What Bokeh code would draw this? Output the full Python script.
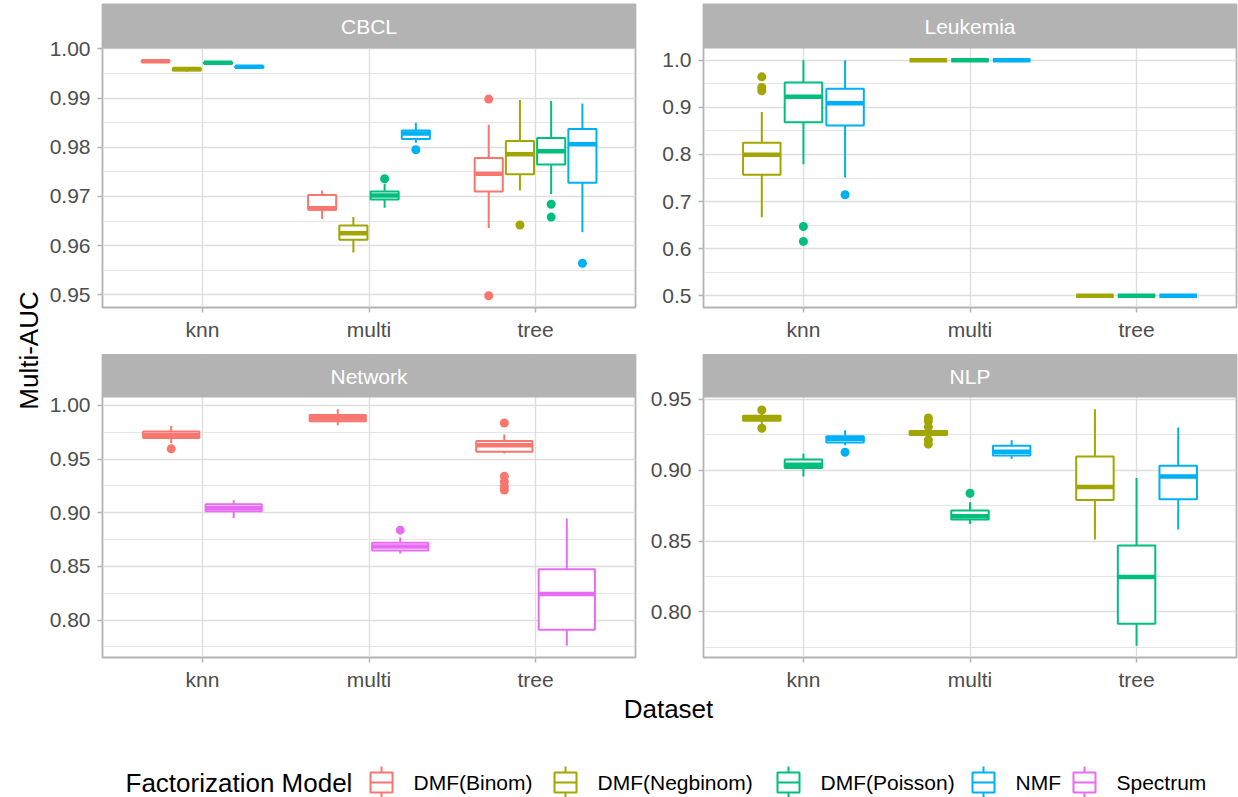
import numpy as np
import pandas as pd
from bokeh.core.properties import value
from bokeh.embed import file_html
from bokeh.layouts import column, row
from bokeh.models import ColumnDataSource, FixedTicker, PrintfTickFormatter, Range1d
from bokeh.plotting import figure
from bokeh.resources import INLINE

# ---------------------------------------------------------------- data
METHODS = ["knn", "multi", "tree"]
MODEL_NAMES = ["DMF(Binom)", "DMF(Negbinom)", "DMF(Poisson)", "NMF", "Spectrum"]
MODEL_COLORS = ["#F8766D", "#A3A500", "#00BF7D", "#00B0F6", "#E76BF3"]

# Box statistics: rows ordered knn, multi, tree; models inner
CBCL_MODELS = ["DMF(Binom)", "DMF(Negbinom)", "DMF(Poisson)", "NMF"]
CBCL_LOWER = [0.9972, 0.9954, 0.9968, 0.9961,
              0.9654, 0.9586, 0.9677, 0.9809,
              0.9636, 0.9712, 0.9705, 0.9627]
CBCL_Q1 = [0.9974, 0.9956, 0.9970, 0.9962,
           0.9673, 0.9612, 0.9694, 0.9817,
           0.9710, 0.9745, 0.9765, 0.9728]
CBCL_MEDIAN = [0.9975, 0.9959, 0.9972, 0.9964,
               0.9676, 0.9625, 0.9702, 0.9828,
               0.9746, 0.9786, 0.9792, 0.9806]
CBCL_Q3 = [0.9976, 0.9961, 0.9973, 0.9965,
           0.9703, 0.9641, 0.9710, 0.9834,
           0.9778, 0.9813, 0.9819, 0.9837]
CBCL_UPPER = [0.9977, 0.9962, 0.9974, 0.9966,
              0.9712, 0.9658, 0.9726, 0.9850,
              0.9846, 0.9896, 0.9894, 0.9889]
CBCL_OUT_METHOD = ["multi", "multi", "tree", "tree", "tree", "tree", "tree", "tree"]
CBCL_OUT_MODEL = ["DMF(Poisson)", "NMF", "DMF(Binom)", "DMF(Binom)",
                  "DMF(Negbinom)", "DMF(Poisson)", "DMF(Poisson)", "NMF"]
CBCL_OUT_VALUE = [0.9736, 0.9795, 0.9898, 0.9498, 0.9642, 0.9684, 0.9658, 0.9564]

LEUK_MODELS = ["DMF(Negbinom)", "DMF(Poisson)", "NMF"]
LEUK_LOWER = [0.6667, 0.7792, 0.7511, 1.0, 1.0, 1.0, 0.5, 0.5, 0.5]
LEUK_Q1 = [0.7567, 0.8685, 0.8615, 1.0, 1.0, 1.0, 0.5, 0.5, 0.5]
LEUK_MEDIAN = [0.7996, 0.9226, 0.9086, 1.0, 1.0, 1.0, 0.5, 0.5, 0.5]
LEUK_Q3 = [0.8249, 0.9529, 0.9395, 1.0, 1.0, 1.0, 0.5, 0.5, 0.5]
LEUK_UPPER = [0.8903, 1.0, 1.0, 1.0, 1.0, 1.0, 0.5, 0.5, 0.5]
LEUK_OUT_METHOD = ["knn", "knn", "knn", "knn", "knn", "knn"]
LEUK_OUT_MODEL = ["DMF(Negbinom)", "DMF(Negbinom)", "DMF(Negbinom)",
                  "DMF(Poisson)", "DMF(Poisson)", "NMF"]
LEUK_OUT_VALUE = [0.9648, 0.9423, 0.9353, 0.6470, 0.6153, 0.7145]

NET_MODELS = ["DMF(Binom)", "Spectrum"]
NET_LOWER = [0.9648, 0.8952, 0.9815, 0.8621, 0.9552, 0.7762]
NET_Q1 = [0.9697, 0.9014, 0.9852, 0.8649, 0.9567, 0.7910]
NET_MEDIAN = [0.9725, 0.9045, 0.9880, 0.8685, 0.9629, 0.8244]
NET_Q3 = [0.9756, 0.9079, 0.9910, 0.8720, 0.9669, 0.8473]
NET_UPPER = [0.9808, 0.9116, 0.9963, 0.8770, 0.9728, 0.8946]
NET_OUT_METHOD = ["knn", "multi", "tree", "tree", "tree", "tree", "tree"]
NET_OUT_MODEL = ["DMF(Binom)", "Spectrum", "DMF(Binom)", "DMF(Binom)",
                 "DMF(Binom)", "DMF(Binom)", "DMF(Binom)"]
NET_OUT_VALUE = [0.9595, 0.8838, 0.9836, 0.9339, 0.9289, 0.9246, 0.9212]

NLP_MODELS = ["DMF(Negbinom)", "DMF(Poisson)", "NMF"]
NLP_LOWER = [0.9324, 0.8956, 0.9177, 0.9241, 0.8621, 0.9081, 0.8511, 0.7761, 0.8581]
NLP_Q1 = [0.9350, 0.9015, 0.9195, 0.9249, 0.8652, 0.9104, 0.8790, 0.7916, 0.8795]
NLP_MEDIAN = [0.9369, 0.9038, 0.9222, 0.9263, 0.8675, 0.9130, 0.8881, 0.8246, 0.8956]
NLP_Q3 = [0.9385, 0.9076, 0.9240, 0.9277, 0.8715, 0.9172, 0.9097, 0.8469, 0.9031]
NLP_UPPER = [0.9406, 0.9118, 0.9282, 0.9285, 0.8774, 0.9212, 0.9430, 0.8945, 0.9301]
NLP_OUT_METHOD = ["knn", "knn", "knn", "multi", "multi", "multi", "multi", "multi", "multi"]
NLP_OUT_MODEL = ["DMF(Negbinom)", "DMF(Negbinom)", "NMF", "DMF(Negbinom)", "DMF(Negbinom)",
                 "DMF(Negbinom)", "DMF(Negbinom)", "DMF(Negbinom)", "DMF(Poisson)"]
NLP_OUT_VALUE = [0.9425, 0.9296, 0.9127, 0.9369, 0.9345, 0.9306, 0.9214, 0.9184, 0.8837]

# Axis ticks
CBCL_TICKS = [0.95, 0.96, 0.97, 0.98, 0.99, 1.00]
CBCL_MINOR = [0.955, 0.965, 0.975, 0.985, 0.995]
LEUK_TICKS = [0.5, 0.6, 0.7, 0.8, 0.9, 1.0]
LEUK_MINOR = [0.55, 0.65, 0.75, 0.85, 0.95]
NET_TICKS = [0.80, 0.85, 0.90, 0.95, 1.00]
NET_MINOR = [0.775, 0.825, 0.875, 0.925, 0.975]
NLP_TICKS = [0.80, 0.85, 0.90, 0.95]
NLP_MINOR = [0.775, 0.825, 0.875, 0.925]

# ---------------------------------------------------------------- style
FONT = "Liberation Sans"
FRAME_W = 533
GRID = "#DEDEDE"
BORDER = "#B3B3B3"
COLOR_OF = dict(zip(MODEL_NAMES, MODEL_COLORS))


def dodge(methods, models, panel_models):
    n = len(panel_models)
    slot = 0.75 / n
    centre = np.array([METHODS.index(m) + 1 for m in methods], dtype=float)
    rank = np.array([panel_models.index(g) for g in models], dtype=float)
    return centre - 0.375 + slot * (rank + 0.5), slot * 0.9


def make_panel(label, panel_models, lower, q1, med, q3, upper,
               out_method, out_model, out_value, ticks, minor, fmt,
               left, right, top, bottom, strip_h, data_h):
    methods = list(np.repeat(METHODS, len(panel_models)))
    models = panel_models * len(METHODS)
    x, w = dodge(methods, models, panel_models)
    boxes = pd.DataFrame({"x": x, "lower": lower, "q1": q1, "median": med,
                          "q3": q3, "upper": upper,
                          "color": [COLOR_OF[m] for m in models]})
    boxes["x0"] = boxes["x"] - w / 2
    boxes["x1"] = boxes["x"] + w / 2
    ox, _ = dodge(out_method, out_model, panel_models)
    outs = pd.DataFrame({"x": ox, "y": out_value,
                         "color": [COLOR_OF[m] for m in out_model]})

    # data limits with 5 % expansion; the facet strip sits above them in the same frame
    lo = min(min(lower), min(out_value))
    hi = max(max(upper), max(out_value))
    pad = 0.05 * (hi - lo)
    y0, y1 = lo - pad, hi + pad
    strip_top = y1 + strip_h * (y1 - y0) / data_h

    p = figure(frame_width=FRAME_W, frame_height=data_h + strip_h,
               x_range=Range1d(0.4, 3.6), y_range=Range1d(y0, strip_top),
               min_border_left=left, min_border_right=right,
               min_border_top=top, min_border_bottom=bottom,
               output_backend="svg", toolbar_location=None, title=None)
    p.background_fill_color = "white"
    p.border_fill_color = "white"
    p.outline_line_color = BORDER
    p.outline_line_width = 1.8

    p.xaxis.ticker = FixedTicker(ticks=[1, 2, 3])
    p.xaxis.major_label_overrides = {1: "knn", 2: "multi", 3: "tree"}
    p.yaxis.ticker = FixedTicker(ticks=ticks, minor_ticks=minor)
    p.yaxis.formatter = PrintfTickFormatter(format=fmt)
    for ax in p.axis:
        ax.axis_line_color = None
        ax.major_tick_line_color = BORDER
        ax.major_tick_line_width = 1.5
        ax.major_tick_out = 5
        ax.major_tick_in = 0
        ax.minor_tick_line_color = None
        ax.major_label_text_font = FONT
        ax.major_label_text_font_size = "21px"
        ax.major_label_text_color = "#4D4D4D"
    p.yaxis.major_label_standoff = 7
    p.xaxis.major_label_standoff = 5

    p.xgrid.grid_line_color = GRID
    p.xgrid.grid_line_width = 1.4
    p.ygrid.grid_line_color = GRID
    p.ygrid.grid_line_width = 1.4
    p.ygrid.minor_grid_line_color = GRID
    p.ygrid.minor_grid_line_width = 0.8

    src = ColumnDataSource(boxes)
    p.segment(x0="x", y0="q3", x1="x", y1="upper", line_color="color", line_width=2, source=src)
    p.segment(x0="x", y0="lower", x1="x", y1="q1", line_color="color", line_width=2, source=src)
    p.vbar(x="x", width=w, bottom="q1", top="q3", fill_color="white",
           line_color="color", line_width=2, source=src)
    p.segment(x0="x0", y0="median", x1="x1", y1="median", line_color="color",
              line_width=4.5, source=src)
    p.scatter(x="x", y="y", size=9, fill_color="color", line_color=None,
              source=ColumnDataSource(outs))

    # facet strip
    p.quad(left=[0.4], right=[3.6], bottom=[y1], top=[strip_top],
           fill_color=BORDER, line_color=None)
    p.text(x=[2.0], y=[(y1 + strip_top) / 2], text=[label], text_align="center",
           text_baseline="middle", text_color="white", text_font=value(FONT),
           text_font_size="21px")
    return p


def blank(w, h):
    f = figure(frame_width=w, frame_height=h, x_range=Range1d(0, w), y_range=Range1d(0, h),
               min_border=0, x_axis_location=None, y_axis_location=None,
               output_backend="svg", toolbar_location=None, title=None)
    f.grid.visible = False
    f.outline_line_color = None
    f.border_fill_color = "white"
    f.background_fill_color = "white"
    return f


# ---------------------------------------------------------------- panels
L_LEFT, L_RIGHT, R_LEFT, R_RIGHT = 58, 2, 66, 2

cbcl = make_panel("CBCL", CBCL_MODELS, CBCL_LOWER, CBCL_Q1, CBCL_MEDIAN, CBCL_Q3, CBCL_UPPER,
                  CBCL_OUT_METHOD, CBCL_OUT_MODEL, CBCL_OUT_VALUE,
                  CBCL_TICKS, CBCL_MINOR, "%.2f", L_LEFT, L_RIGHT, 4, 47, 44, 259)
leuk = make_panel("Leukemia", LEUK_MODELS, LEUK_LOWER, LEUK_Q1, LEUK_MEDIAN, LEUK_Q3, LEUK_UPPER,
                  LEUK_OUT_METHOD, LEUK_OUT_MODEL, LEUK_OUT_VALUE,
                  LEUK_TICKS, LEUK_MINOR, "%.1f", R_LEFT, R_RIGHT, 4, 47, 44, 259)
net = make_panel("Network", NET_MODELS, NET_LOWER, NET_Q1, NET_MEDIAN, NET_Q3, NET_UPPER,
                 NET_OUT_METHOD, NET_OUT_MODEL, NET_OUT_VALUE,
                 NET_TICKS, NET_MINOR, "%.2f", L_LEFT, L_RIGHT, 0, 34, 43, 260)
nlp = make_panel("NLP", NLP_MODELS, NLP_LOWER, NLP_Q1, NLP_MEDIAN, NLP_Q3, NLP_UPPER,
                 NLP_OUT_METHOD, NLP_OUT_MODEL, NLP_OUT_VALUE,
                 NLP_TICKS, NLP_MINOR, "%.2f", R_LEFT, R_RIGHT, 0, 34, 43, 260)

# axis titles
xlab = blank(1194, 36)
xlab.text(x=[624], y=[21], text=["Dataset"], text_align="center", text_baseline="middle",
          text_font=value(FONT), text_font_size="26px", text_color="black")

ylab = blank(44, 727)
ylab.text(x=[28], y=[727 - 350], text=["Multi-AUC"], angle=np.pi / 2,
          text_align="center", text_baseline="middle",
          text_font=value(FONT), text_font_size="26px", text_color="black")

# legend
leg = blank(1238, 70)
KEY_X = np.array([381, 565, 788, 983, 1084], dtype=float)
KEY_Y = 17
leg.text(x=[125], y=[KEY_Y], text=["Factorization Model"], text_align="left",
         text_baseline="middle", text_font=value(FONT), text_font_size="26px",
         text_color="black")
leg.segment(x0=KEY_X, y0=KEY_Y + 10, x1=KEY_X, y1=KEY_Y + 16, line_color=MODEL_COLORS, line_width=2)
leg.segment(x0=KEY_X, y0=KEY_Y - 16, x1=KEY_X, y1=KEY_Y - 10, line_color=MODEL_COLORS, line_width=2)
leg.quad(left=KEY_X - 11, right=KEY_X + 11, bottom=KEY_Y - 10, top=KEY_Y + 10,
         fill_color="white", line_color=MODEL_COLORS, line_width=2)
leg.segment(x0=KEY_X - 11, y0=KEY_Y, x1=KEY_X + 11, y1=KEY_Y, line_color=MODEL_COLORS, line_width=2)
leg.text(x=KEY_X + 32, y=[KEY_Y] * 5, text=MODEL_NAMES, text_align="left",
         text_baseline="middle", text_font=value(FONT), text_font_size="21px",
         text_color="black")

page = column(row(ylab, column(row(cbcl, leuk), row(net, nlp), xlab)), leg)

with open("out.html", "w") as fh:
    fh.write(file_html(page, INLINE))
